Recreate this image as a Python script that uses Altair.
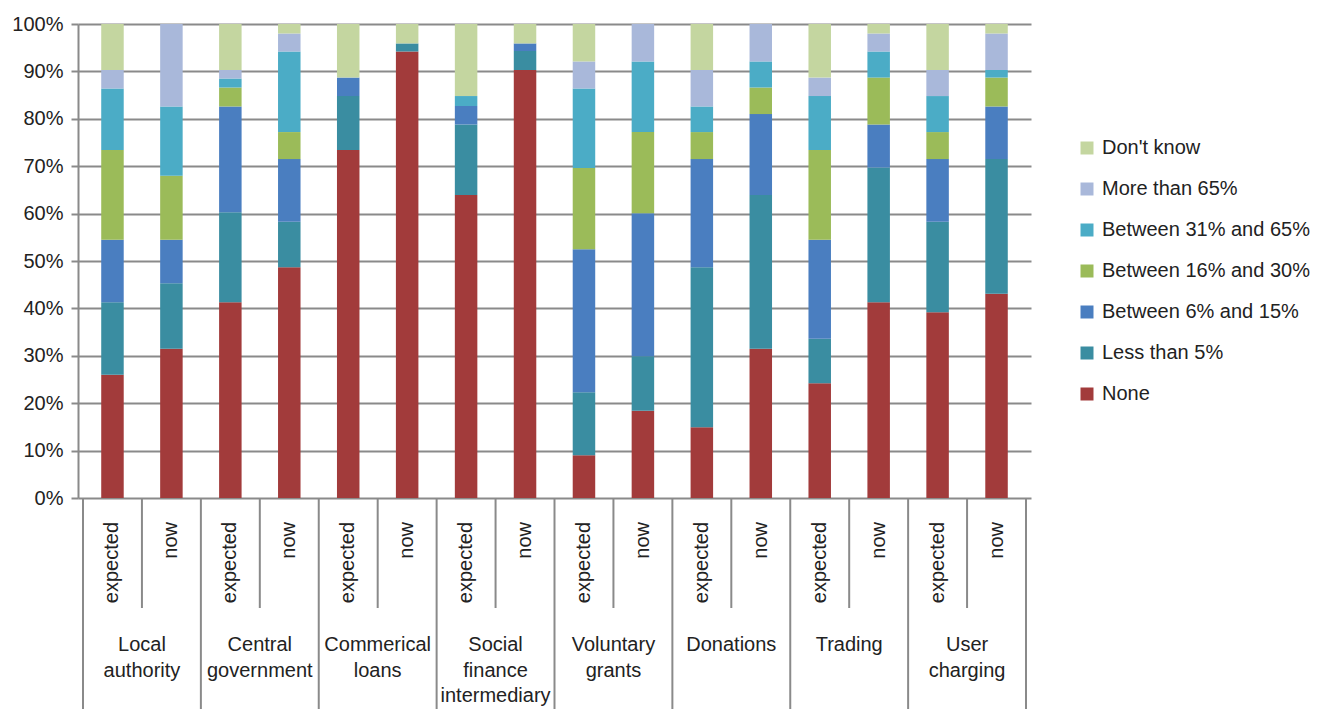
import altair as alt
import pandas as pd

# Funding sources, each with an "expected" and a "now" bar
groups = [
    "Local\nauthority",
    "Central\ngovernment",
    "Commerical\nloans",
    "Social\nfinance\nintermediary",
    "Voluntary\ngrants",
    "Donations",
    "Trading",
    "User\ncharging",
]
periods = ["expected", "now"]

# Share of income bands (percent of respondents), one value per bar, bottom to top
none_vals = [26.0, 31.5, 41.3, 48.7, 73.4, 94.2, 63.9, 90.3, 9.0, 18.4, 14.9, 31.5, 24.2, 41.3, 39.2, 43.1]
less5_vals = [15.3, 13.8, 19.0, 9.6, 11.4, 1.7, 14.9, 4.0, 13.3, 11.5, 33.8, 32.4, 9.4, 28.4, 19.1, 28.4]
b6_15_vals = [13.2, 9.2, 22.3, 13.2, 3.9, 0.0, 3.9, 1.6, 30.2, 30.2, 22.8, 17.1, 20.9, 9.1, 13.2, 11.1]
b16_30_vals = [18.9, 13.5, 4.0, 5.7, 0.0, 0.0, 0.0, 0.0, 17.1, 17.1, 5.7, 5.6, 18.9, 9.9, 5.7, 6.1]
b31_65_vals = [13.0, 14.6, 1.9, 17.0, 0.0, 0.0, 2.1, 0.0, 16.8, 14.9, 5.4, 5.5, 11.4, 5.5, 7.6, 1.6]
more65_vals = [3.9, 17.4, 1.8, 3.8, 0.0, 0.0, 0.0, 0.0, 5.7, 7.9, 7.7, 7.9, 3.9, 3.8, 5.5, 7.7]
dontknow_vals = [9.7, 0.0, 9.7, 2.0, 11.3, 4.1, 15.2, 4.1, 7.9, 0.0, 9.7, 0.0, 11.3, 2.0, 9.7, 2.0]

series = [
    "None",
    "Less than 5%",
    "Between 6% and 15%",
    "Between 16% and 30%",
    "Between 31% and 65%",
    "More than 65%",
    "Don't know",
]
series_values = [none_vals, less5_vals, b6_15_vals, b16_30_vals, b31_65_vals, more65_vals, dontknow_vals]
series_colors = ["#A23B3B", "#3A8DA1", "#4A7EC0", "#9BBB59", "#4BACC6", "#A9B8DA", "#C4D6A0"]

rows = []
for rank, (name, vals) in enumerate(zip(series, series_values)):
    for i, v in enumerate(vals):
        if v > 0:
            rows.append({"pos": i, "series": name, "rank": rank, "value": v})
bars_df = pd.DataFrame(rows)

period_df = pd.DataFrame({"pos": list(range(16)), "label": [periods[i % 2] for i in range(16)]})
group_df = pd.DataFrame({"pos": [2 * g + 0.5 for g in range(len(groups))], "label": groups})
outer_lines = pd.DataFrame({"pos": [2 * g - 0.5 for g in range(len(groups) + 1)]})
inner_lines = pd.DataFrame({"pos": [2 * g + 0.5 for g in range(len(groups))]})

W, H = 953, 474
FONT = "Liberation Sans"
FS = 20
GRID = "#8a8a8a"
TEXT = "#222222"

xscale = alt.Scale(domain=[-0.5, 15.5], nice=False, zero=False)
yscale = alt.Scale(domain=[0, 100], nice=False)

bars = (
    alt.Chart(bars_df)
    .transform_stack(stack="value", groupby=["pos"], as_=["y0", "y1"], sort=[alt.SortField("rank", order="ascending")])
    .mark_bar(size=22.5)
    .encode(
        x=alt.X("pos:Q", scale=xscale, axis=None),
        y=alt.Y(
            "y0:Q",
            scale=yscale,
            axis=alt.Axis(
                values=list(range(0, 101, 10)),
                labelExpr="datum.value + '%'",
                title=None,
                grid=True,
                gridColor=GRID,
                gridWidth=2,
                gridOpacity=1,
                domainColor=GRID,
                domainWidth=2,
                tickColor=GRID,
                tickWidth=2,
                tickSize=7,
                labelFont=FONT,
                labelFontSize=FS,
                labelColor=TEXT,
                labelPadding=8,
            ),
        ),
        y2="y1:Q",
        color=alt.Color(
            "series:N",
            scale=alt.Scale(domain=series[::-1], range=series_colors[::-1]),
            legend=alt.Legend(
                title=None,
                orient="none",
                legendX=999,
                legendY=114,
                symbolType="square",
                symbolSize=169,
                symbolStrokeWidth=0,
                labelFont=FONT,
                labelFontSize=FS,
                labelColor=TEXT,
                labelOffset=5,
                rowPadding=21,
                padding=0,
                labelLimit=400,
            ),
        ),
    )
)

outer = (
    alt.Chart(outer_lines)
    .mark_rule(color=GRID, strokeWidth=2)
    .encode(x=alt.X("pos:Q", scale=xscale, axis=None), y=alt.value(H), y2=alt.value(H + 240))
)
inner = (
    alt.Chart(inner_lines)
    .mark_rule(color=GRID, strokeWidth=2)
    .encode(x=alt.X("pos:Q", scale=xscale, axis=None), y=alt.value(H), y2=alt.value(H + 110))
)

period_text = (
    alt.Chart(period_df)
    .mark_text(angle=270, align="right", baseline="middle", font=FONT, fontSize=FS, color=TEXT)
    .encode(x=alt.X("pos:Q", scale=xscale, axis=None), y=alt.value(H + 24), text="label:N")
)

group_text = (
    alt.Chart(group_df)
    .mark_text(align="center", baseline="top", font=FONT, fontSize=FS, color=TEXT, lineBreak="\n", lineHeight=25.5)
    .encode(x=alt.X("pos:Q", scale=xscale, axis=None), y=alt.value(H + 137), text="label:N")
)

chart = (
    alt.layer(bars, outer, inner, period_text, group_text)
    .properties(
        width=W,
        height=H,
        autosize=alt.AutoSizeParams(type="none"),
        padding={"left": 78, "top": 24, "right": 1317 - 78 - W, "bottom": 709 - 24 - H},
        background="white",
    )
    .configure_view(stroke=None)
)

chart.save("out.html", embed_options={"renderer": "svg", "actions": False})
